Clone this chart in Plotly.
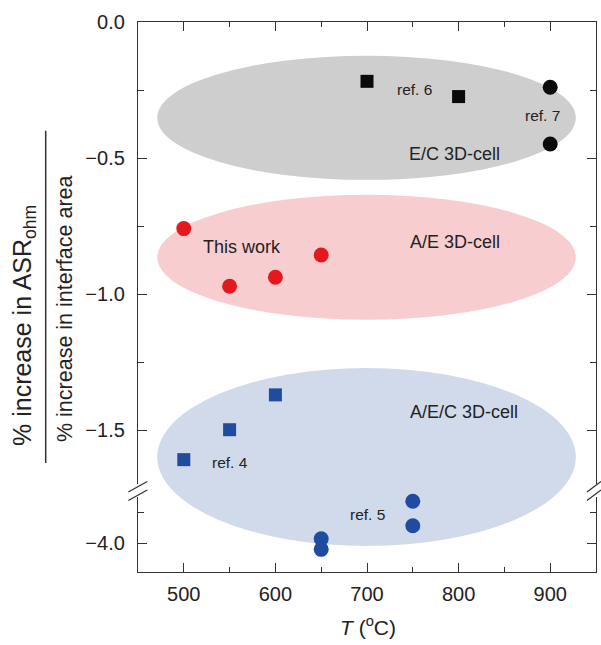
import plotly.graph_objects as go

# ---------------- data ----------------
ref6_T = [700, 800]
ref6_v = [-0.218, -0.274]
ref7_T = [900, 900]
ref7_v = [-0.240, -0.448]
this_T = [500, 550, 600, 650]
this_v = [-0.759, -0.971, -0.938, -0.856]
ref4_T = [500, 550, 600]
ref4_v = [-1.608, -1.498, -1.370]
ref5_T = [650, 650, 750, 750]
ref5_v = [-3.986, -4.021, -3.862, -3.943]

x_ticks = [500, 600, 700, 800, 900]
y_ticks_upper = [0.0, -0.5, -1.0, -1.5]
y_ticks_lower = [-4.0]

FONT = "Liberation Sans, Arial, sans-serif"
AX = "#333333"
RED = "#e3191f"
BLUE = "#1f4c9f"
BLACK = "#0a0a0a"

# layout geometry (pixels)
W, H = 601, 645
L, R, T, B = 138, 5, 22, 73
PW, PH = W - L - R, H - T - B


def px_x(px):
    return (px - L) / PW


def px_y(py):
    return (H - B - py) / PH


upper_dom = [px_y(484), 1.0]
lower_dom = [0.0, px_y(497)]

fig = go.Figure()

fig.add_trace(go.Scatter(x=ref6_T, y=ref6_v, mode="markers", xaxis="x", yaxis="y", cliponaxis=False,
                         marker=dict(symbol="square", size=13, color=BLACK), showlegend=False))
fig.add_trace(go.Scatter(x=ref7_T, y=ref7_v, mode="markers", xaxis="x", yaxis="y", cliponaxis=False,
                         marker=dict(symbol="circle", size=15, color=BLACK), showlegend=False))
fig.add_trace(go.Scatter(x=this_T, y=this_v, mode="markers", xaxis="x", yaxis="y", cliponaxis=False,
                         marker=dict(symbol="circle", size=15, color=RED), showlegend=False))
fig.add_trace(go.Scatter(x=ref4_T, y=ref4_v, mode="markers", xaxis="x", yaxis="y", cliponaxis=False,
                         marker=dict(symbol="square", size=13, color=BLUE), showlegend=False))
fig.add_trace(go.Scatter(x=ref5_T, y=ref5_v, mode="markers", xaxis="x", yaxis="y2", cliponaxis=False,
                         marker=dict(symbol="circle", size=15, color=BLUE), showlegend=False))
# invisible trace to host the top mirror axis
fig.add_trace(go.Scatter(x=[700], y=[-0.5], mode="markers", xaxis="x2", yaxis="y",
                         marker=dict(opacity=0), hoverinfo="skip", showlegend=False))

tickfont = dict(family=FONT, size=20, color="#222222")
common_x = dict(range=[450, 950], showgrid=False, zeroline=False, ticks="inside",
                tickvals=x_ticks, ticklen=9, tickwidth=1.3, tickcolor=AX,
                showline=True, linecolor=AX, linewidth=1.3,
                minor=dict(dtick=50, tick0=450, ticks="inside", ticklen=5, tickwidth=1.3, tickcolor=AX))
common_y = dict(showgrid=False, zeroline=False, ticks="inside", ticklen=9, tickwidth=1.3,
                tickcolor=AX, showline=True, linecolor=AX, linewidth=1.3, mirror="ticks",
                tickfont=tickfont, tickformat=".1f", ticklabelstandoff=8)

fig.update_layout(
    width=W, height=H,
    margin=dict(l=L, r=R, t=T, b=B),
    paper_bgcolor="white", plot_bgcolor="white",
    font=dict(family=FONT, color="#222222"),
    xaxis=dict(anchor="y2", tickfont=tickfont, ticklabelstandoff=4, **common_x),
    xaxis2=dict(overlaying="x", anchor="y", side="top", showticklabels=False, **common_x),
    yaxis=dict(domain=upper_dom, range=[-(484 - 22.3) / 272.0, 0], anchor="x",
               tickvals=y_ticks_upper,
               minor=dict(dtick=0.25, tick0=0, ticks="inside", ticklen=6, tickwidth=1.3, tickcolor=AX),
               **common_y),
    yaxis2=dict(domain=lower_dom, range=[-4.0 - (572 - 543) / 303.0, -4.0 + (543 - 497) / 303.0],
                anchor="x", tickvals=y_ticks_lower,
                minor=dict(dtick=0.1, tick0=-4.0, ticks="inside", ticklen=6, tickwidth=1.3, tickcolor=AX),
                **common_y),
)

# ---------------- ellipses ----------------
shapes = [
    dict(type="circle", xref="x", yref="y", x0=471, x1=928, y0=-0.124, y1=-0.580,
         fillcolor="rgb(206,206,206)", line=dict(width=0), layer="below"),
    dict(type="circle", xref="x", yref="y", x0=471, x1=928, y0=-0.635, y1=-1.094,
         fillcolor="rgb(248,205,208)", line=dict(width=0), layer="below"),
    dict(type="circle", xref="x", yref="paper", x0=471, x1=928, y0=px_y(546), y1=px_y(368),
         fillcolor="rgb(208,218,235)", line=dict(width=0), layer="below"),
]
# break marks
for (ax0, ax1) in [(128.3, 147.3), (587.0, 601.0)]:
    for dy in (0, 8.5):
        shapes.append(dict(type="line", xref="paper", yref="paper",
                           x0=px_x(ax0), y0=px_y(492 + dy), x1=px_x(ax1), y1=px_y(481.5 + dy),
                           line=dict(color=AX, width=1.3)))
# fraction bar of the y title
shapes.append(dict(type="line", xref="paper", yref="paper",
                   x0=px_x(45.7), x1=px_x(45.7), y0=px_y(130.7), y1=px_y(463),
                   line=dict(color="#333333", width=1.5)))
fig.update_layout(shapes=shapes)

# ---------------- text ----------------
lab_font = dict(family=FONT, size=18, color="#222222")
ref_font = dict(family=FONT, size=15.5, color="#222222")
annots = [
    dict(text="ref. 6", x=752, y=-0.249, xref="x", yref="y", font=ref_font),
    dict(text="ref. 7", x=892, y=-0.343, xref="x", yref="y", font=ref_font),
    dict(text="E/C 3D-cell", x=796, y=-0.484, xref="x", yref="y", font=lab_font),
    dict(text="This work", x=564, y=-0.825, xref="x", yref="y", font=lab_font),
    dict(text="A/E 3D-cell", x=796, y=-0.810, xref="x", yref="y", font=lab_font),
    dict(text="A/E/C 3D-cell", x=806, y=-1.432, xref="x", yref="y", font=lab_font),
    dict(text="ref. 4", x=550, y=-1.619, xref="x", yref="y", font=ref_font),
    dict(text="ref. 5", x=700, y=-3.907, xref="x", yref="y2", font=ref_font),
    dict(text="% increase in ASR<sub>ohm</sub>", x=px_x(24), y=px_y(326), xref="paper", yref="paper",
         textangle=-90, font=dict(family=FONT, size=25, color="#222222")),
    dict(text="% increase in interface area", x=px_x(65), y=px_y(309), xref="paper", yref="paper",
         textangle=-90, font=dict(family=FONT, size=21.5, color="#222222")),
    dict(text="<i>T</i> (<sup>o</sup>C)", x=px_x(368), y=px_y(626), xref="paper", yref="paper",
         font=dict(family=FONT, size=21, color="#222222")),
]
for a in annots:
    a.update(showarrow=False, xanchor="center", yanchor="middle")
fig.update_layout(annotations=annots)

fig.write_html("out.html", config={"displayModeBar": False},
               post_script="document.body.style.margin='0px';document.body.style.overflow='hidden';")
